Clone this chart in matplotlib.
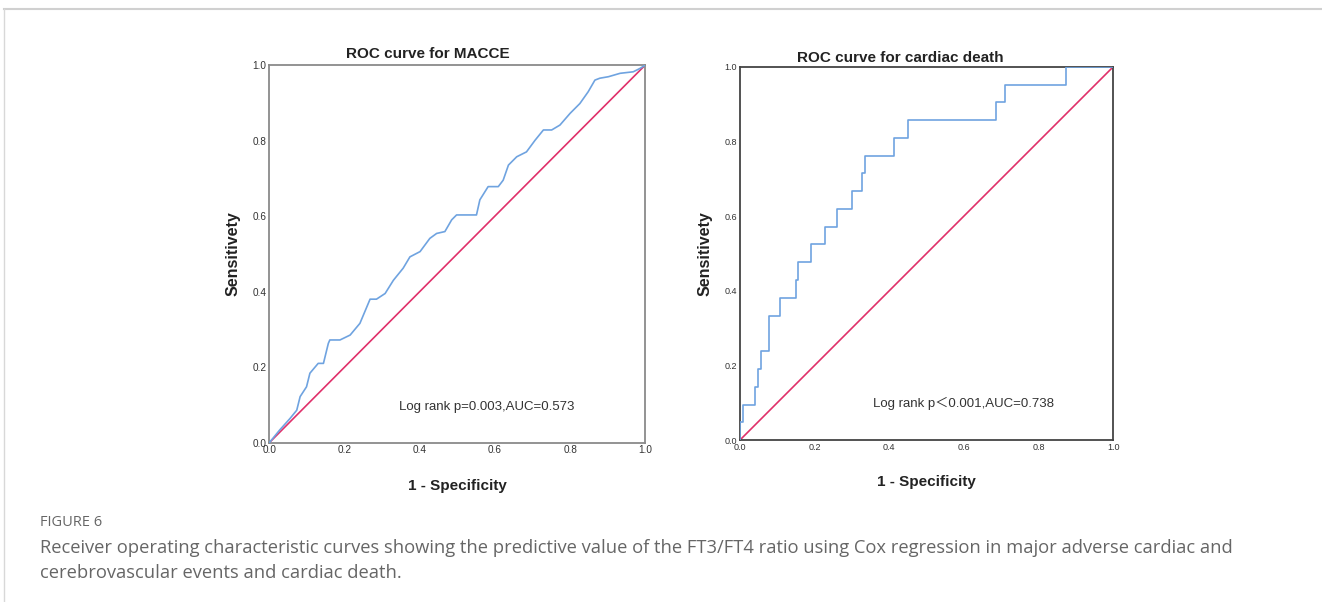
import matplotlib.pyplot as plt
from matplotlib.lines import Line2D

# ROC for MACCE
macce_fpr = [0.0, 0.028, 0.055, 0.073, 0.082, 0.099, 0.108, 0.130, 0.144, 0.157, 0.161,
             0.188, 0.215, 0.241, 0.268, 0.285, 0.308, 0.330, 0.356, 0.374, 0.401,
             0.427, 0.445, 0.467, 0.485, 0.498, 0.551, 0.560, 0.582, 0.609, 0.622,
             0.636, 0.658, 0.684, 0.707, 0.729, 0.751, 0.773, 0.800, 0.826, 0.848,
             0.866, 0.879, 0.902, 0.933, 0.968, 0.986, 1.0]
macce_tpr = [0.0, 0.034, 0.064, 0.086, 0.122, 0.148, 0.184, 0.210, 0.210, 0.263, 0.272,
             0.272, 0.285, 0.316, 0.380, 0.380, 0.395, 0.430, 0.462, 0.492, 0.506,
             0.541, 0.554, 0.559, 0.590, 0.603, 0.603, 0.643, 0.678, 0.678, 0.695,
             0.735, 0.757, 0.770, 0.801, 0.828, 0.828, 0.841, 0.872, 0.898, 0.929,
             0.960, 0.965, 0.969, 0.978, 0.982, 0.991, 1.0]

# ROC for cardiac death (step curve)
death_fpr = [0.0, 0.0, 0.007, 0.007, 0.040, 0.040, 0.047, 0.047, 0.055, 0.055,
             0.077, 0.077, 0.079, 0.079, 0.108, 0.108, 0.150, 0.150, 0.155, 0.155,
             0.191, 0.191, 0.229, 0.229, 0.259, 0.259, 0.301, 0.301, 0.326, 0.326,
             0.334, 0.334, 0.412, 0.412, 0.450, 0.450, 0.687, 0.687, 0.710, 0.710,
             0.872, 0.872, 1.0]
death_tpr = [0.0, 0.048, 0.048, 0.095, 0.095, 0.143, 0.143, 0.190, 0.190, 0.238,
             0.238, 0.286, 0.286, 0.333, 0.333, 0.381, 0.381, 0.429, 0.429, 0.476,
             0.476, 0.524, 0.524, 0.571, 0.571, 0.619, 0.619, 0.667, 0.667, 0.714,
             0.714, 0.762, 0.762, 0.810, 0.810, 0.857, 0.857, 0.905, 0.905, 0.952,
             0.952, 1.0, 1.0]

ticks = [0.0, 0.2, 0.4, 0.6, 0.8, 1.0]
titles = ['ROC curve for MACCE', 'ROC curve for cardiac death']
notes = ['Log rank p=0.003,AUC=0.573', 'Log rank p\uff1c0.001,AUC=0.738']

blue = '#6fa3e0'
red = '#e0306a'

plt.rcParams['font.family'] = ['Liberation Sans', 'DejaVu Sans']

fig = plt.figure(figsize=(13.22, 6.02), dpi=100)

ax1 = fig.add_axes([269.3 / 1322, 1 - 442.7 / 602, 376 / 1322, 377.7 / 602])
ax2 = fig.add_axes([740 / 1322, 1 - 440 / 602, 373.3 / 1322, 373.3 / 602])

# axis, x, y, frame colour, tick size, title x, title gap, note x, note y
panels = [(ax1, macce_fpr, macce_tpr, '#8a8a8a', 7.2, 0.422, 4, 0.346, 0.095),
          (ax2, death_fpr, death_tpr, '#444444', 6.5, 0.429, 2, 0.355, 0.098)]

for i, (ax, fx, ty, edge, tsize, tx, gap, nx, ny) in enumerate(panels):
    ax.plot([0, 1], [0, 1], color=red, linewidth=1.2, zorder=2)
    ax.plot(fx, ty, color=blue, linewidth=1.2, zorder=3)
    ax.set_xlim(0, 1)
    ax.set_ylim(0, 1)
    ax.set_xticks(ticks)
    ax.set_yticks(ticks)
    ax.set_xticklabels([f'{t:.1f}' for t in ticks])
    ax.set_yticklabels([f'{t:.1f}' for t in ticks])
    ax.tick_params(length=0, labelsize=tsize, colors='#333333', pad=2)
    for s in ax.spines.values():
        s.set_color(edge)
        s.set_linewidth(1.3)
    ax.text(tx, 1 + gap / 375, titles[i], transform=ax.transAxes, ha='center', va='bottom',
            fontsize=11, fontweight='bold', color='#222222')
    ax.set_xlabel('1 - Specificity', fontsize=11, fontweight='bold', color='#222222', labelpad=17)
    ax.set_ylabel('Sensitivety', fontsize=11.5, fontweight='bold', color='#222222', labelpad=9)
    ax.text(nx, ny, notes[i], fontsize=9.5, color='#333333', va='center',
            family=['Liberation Sans', 'Noto Sans CJK SC', 'DejaVu Sans'])

# page frame
fig.add_artist(Line2D([4 / 1322, 1], [1 - 9 / 602, 1 - 9 / 602], color='#d0d0d0', linewidth=1.5))
fig.add_artist(Line2D([4 / 1322, 4 / 1322], [0, 1 - 9 / 602], color='#d8d8d8', linewidth=1))

fig.text(40 / 1322, 1 - 522 / 602, 'FIGURE 6', fontsize=10.5, color='#666666', va='center',
         family='Open Sans')
fig.text(40 / 1322, 1 - 548 / 602,
         'Receiver operating characteristic curves showing the predictive value of the FT3/FT4 ratio '
         'using Cox regression in major adverse cardiac and',
         fontsize=13.2, color='#666666', va='center', family='Open Sans')
fig.text(40 / 1322, 1 - 573 / 602, 'cerebrovascular events and cardiac death.',
         fontsize=13.2, color='#666666', va='center', family='Open Sans')

fig.savefig('out.png', dpi=100)
